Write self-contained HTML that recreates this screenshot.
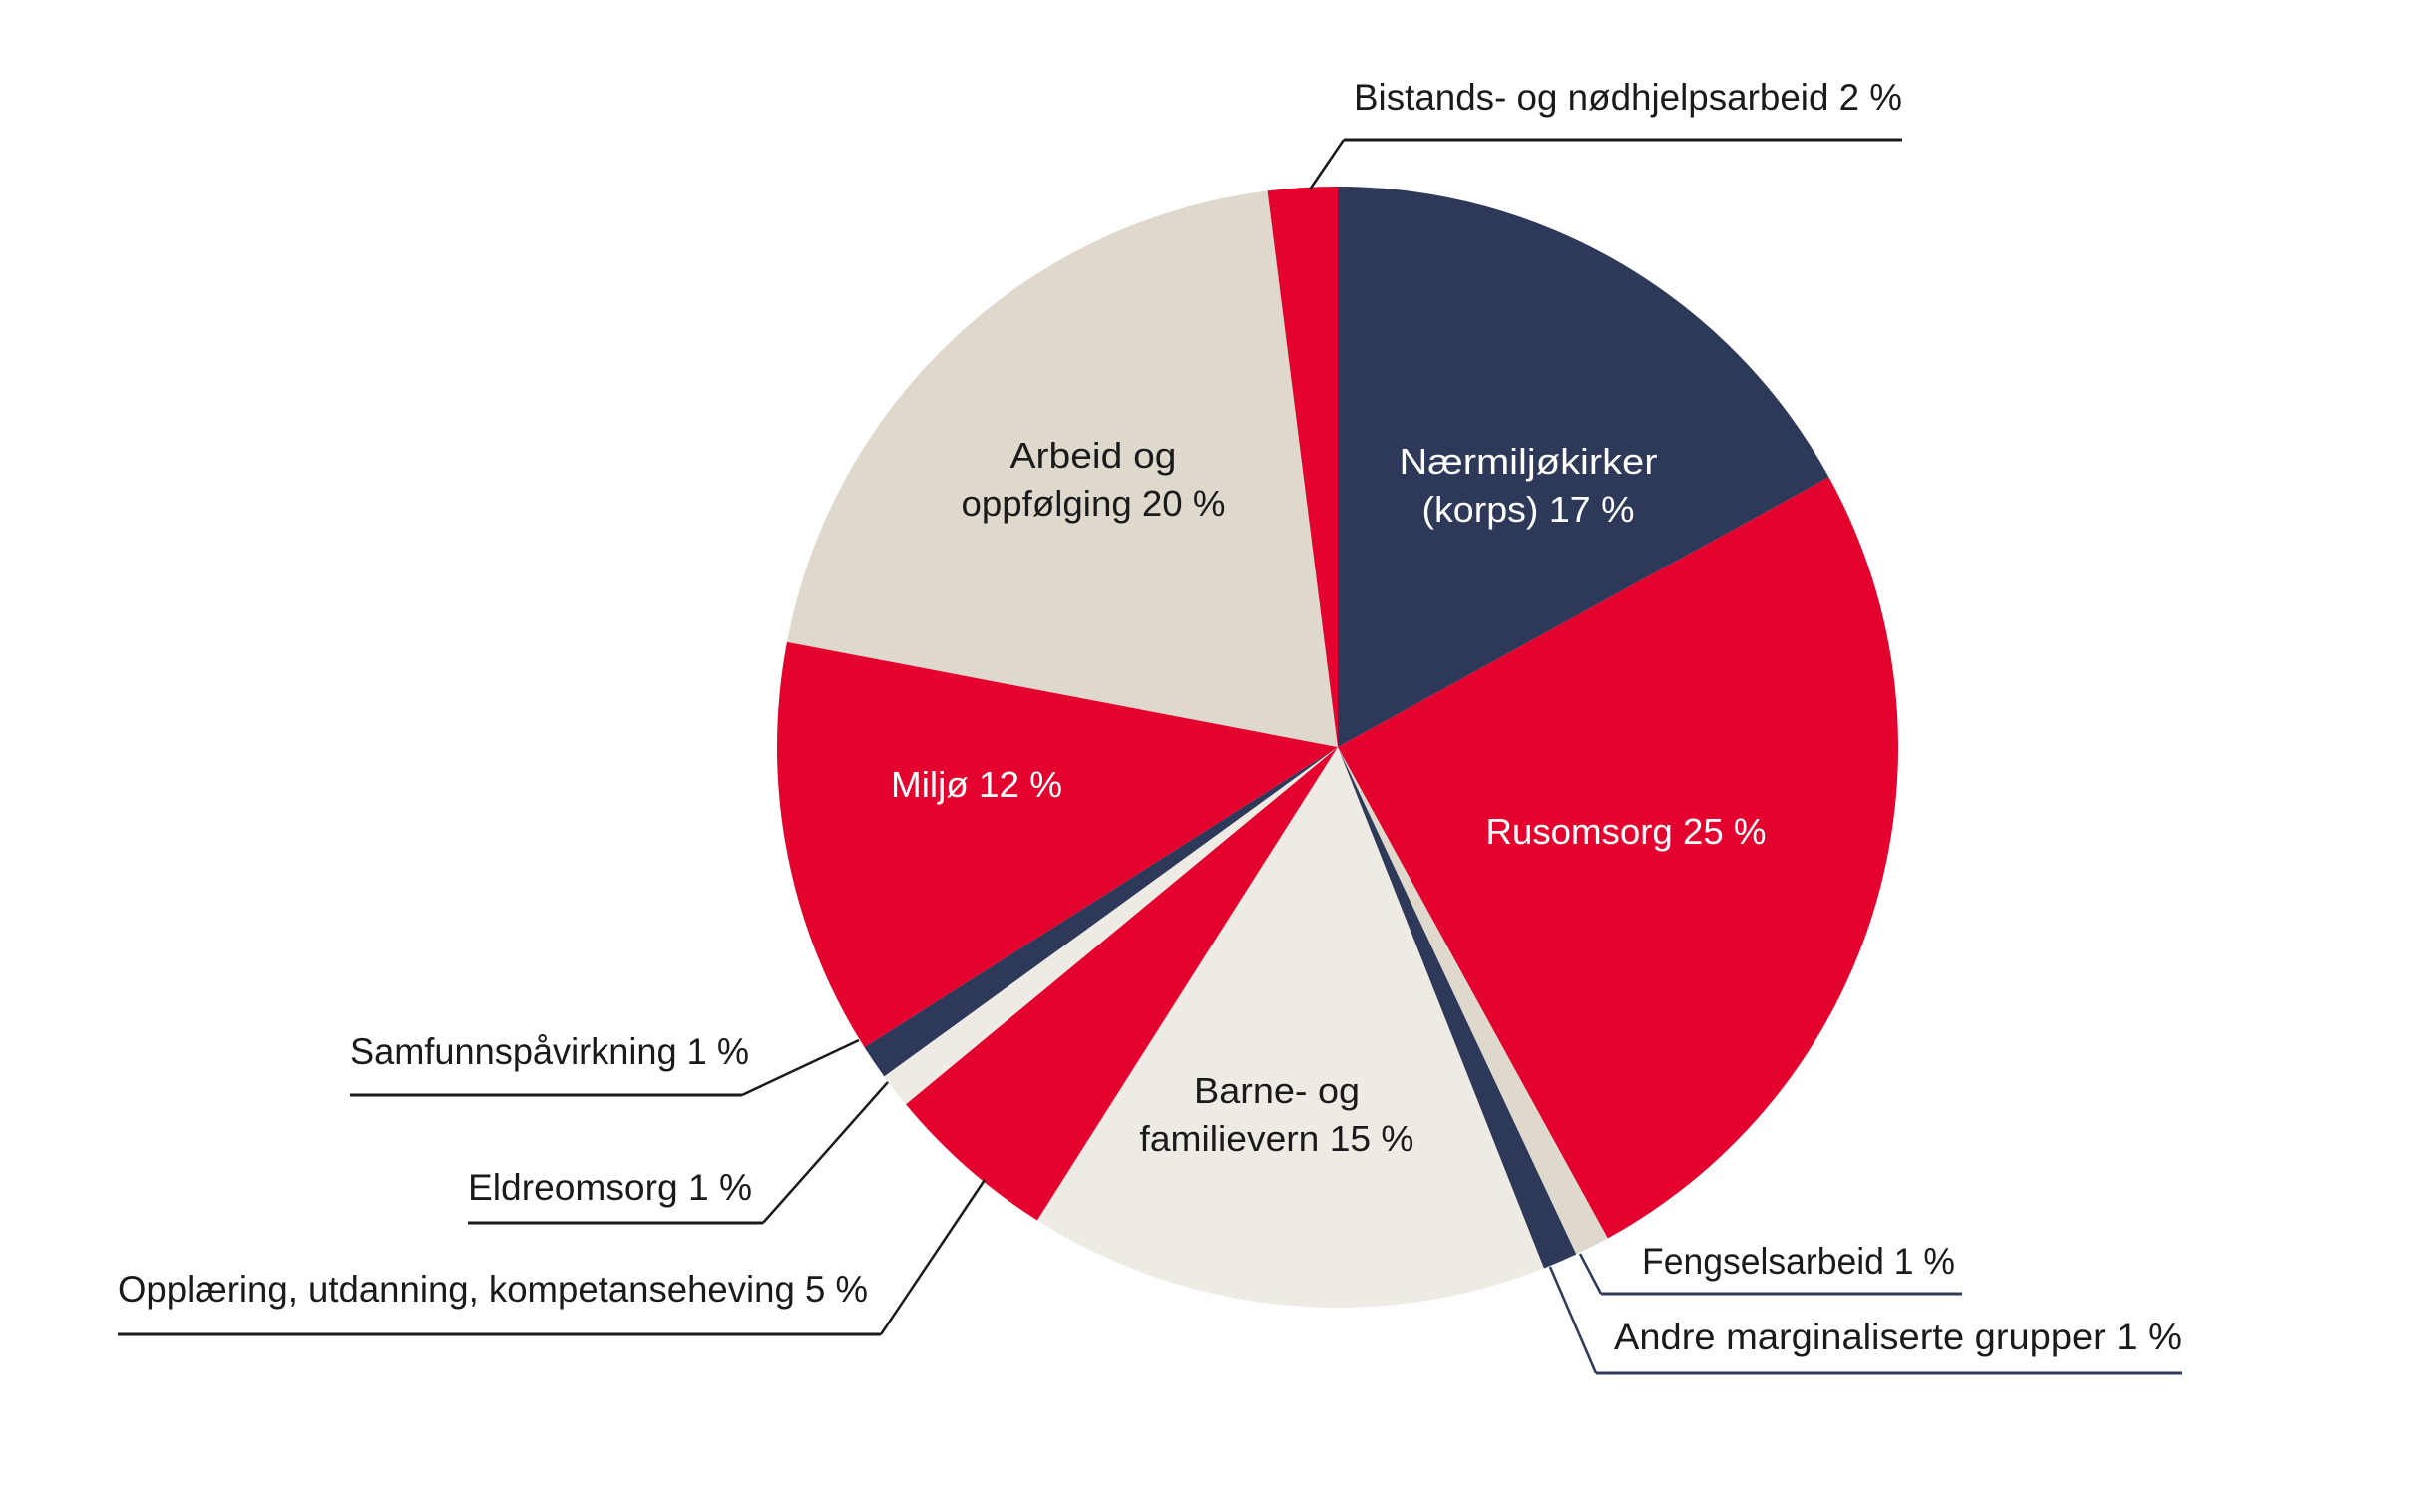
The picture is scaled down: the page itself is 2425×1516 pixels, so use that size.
<!DOCTYPE html>
<html><head><meta charset="utf-8"><style>
html,body{margin:0;padding:0;background:#fff;}
svg{display:block;}
text{font-family:"Liberation Sans",sans-serif;}
</style></head><body>
<svg id="chart" width="2425" height="1516" viewBox="0 0 2425 1516" xmlns="http://www.w3.org/2000/svg">
<g id="slices"></g>
<g id="leaders"></g>
<g id="labels"></g>
</svg>
<script>
const categories = ["Nærmiljøkirker (korps)","Rusomsorg","Fengselsarbeid","Andre marginaliserte grupper","Barne- og familievern","Opplæring, utdanning, kompetanseheving","Eldreomsorg","Samfunnspåvirkning","Miljø","Arbeid og oppfølging","Bistands- og nødhjelpsarbeid"];
const values = [17,25,1,1,15,5,1,1,12,20,2];
const colors = ["#2e3859","#e4032e","#dfd8cc","#2e3859","#eeeae4","#e4032e","#eeeae4","#2e3859","#e4032e","#dfd8cc","#e4032e"];
const insideLabels = [["Nærmiljøkirker","(korps) 17 %"],["Rusomsorg 25 %"],null,null,["Barne- og","familievern 15 %"],null,null,null,["Miljø 12 %"],["Arbeid og","oppfølging 20 %"],null];
const outsideLabels = [null,null,"Fengselsarbeid 1 %","Andre marginaliserte grupper 1 %",null,"Opplæring, utdanning, kompetanseheving 5 %","Eldreomsorg 1 %","Samfunnspåvirkning 1 %",null,null,"Bistands- og nødhjelpsarbeid 2 %"];

const NS="http://www.w3.org/2000/svg";
const cx=1341, cy=749, R=562;
const total=values.reduce((a,b)=>a+b,0);
function pt(frac,r){const a=frac*2*Math.PI;return [cx+r*Math.sin(a),cy-r*Math.cos(a)];}

// layout for inside labels: [centerX, baseline1, widths...]
const inLayout={0:{x:1532,y:475,w:[259,213]},1:{x:1630,y:846,w:[281]},4:{x:1280,y:1106,w:[166,275]},8:{x:979,y:799,w:[172]},9:{x:1096,y:469,w:[167,265]}};
// outside label layout: text x, baseline, text width, underline y, underline x1,x2, leader end point
const outLayout={
 10:{tx:1357,ty:110,tw:550,uy:140,ux1:1347,ux2:1907,lx:1347,ex:1313,ey:190,col:"#1a1a1a"},
 2:{tx:1646,ty:1277,tw:314,uy:1297,ux1:1605,ux2:1967,lx:1605,ex:1584,ey:1257,col:"#2e3859"},
 3:{tx:1618,ty:1353,tw:569,uy:1377,ux1:1600,ux2:2187,lx:1600,ex:1554,ey:1270,col:"#2e3859"},
 7:{tx:351,ty:1067,tw:400,uy:1098,ux1:351,ux2:744,lx:744,ex:861,ey:1043,col:"#1a1a1a"},
 6:{tx:469,ty:1203,tw:285,uy:1226,ux1:469,ux2:765,lx:765,ex:890,ey:1085,col:"#1a1a1a"},
 5:{tx:118,ty:1305,tw:752,uy:1338,ux1:118,ux2:883,lx:883,ex:987,ey:1183,col:"#1a1a1a"}
};

const gS=document.getElementById('slices'), gL=document.getElementById('leaders'), gT=document.getElementById('labels');
let acc=0;
values.forEach((v,i)=>{
  const f0=acc/total, f1=(acc+v)/total; acc+=v;
  const [x0,y0]=pt(f0,R),[x1,y1]=pt(f1,R);
  const large=(f1-f0)>0.5?1:0;
  const p=document.createElementNS(NS,'path');
  p.setAttribute('d',`M${cx},${cy}L${x0},${y0}A${R},${R} 0 ${large} 1 ${x1},${y1}Z`);
  p.setAttribute('fill',colors[i]);
  
  
  gS.appendChild(p);
  if(insideLabels[i]&&inLayout[i]){
    const L=inLayout[i];
    const fill=(colors[i]==="#dfd8cc"||colors[i]==="#eeeae4")?"#1a1a1a":"#ffffff";
    insideLabels[i].forEach((line,k)=>{
      const t=document.createElementNS(NS,'text');
      t.setAttribute('x',L.x);t.setAttribute('y',L.y+k*48);
      t.setAttribute('text-anchor','middle');t.setAttribute('font-size','36');
      t.setAttribute('fill',fill);
      t.setAttribute('textLength',L.w[k]);t.setAttribute('lengthAdjust','spacingAndGlyphs');
      t.textContent=line;
      
      
      gT.appendChild(t);
    });
  }
  if(outsideLabels[i]&&outLayout[i]){
    const L=outLayout[i];
    const pl=document.createElementNS(NS,'polyline');
    pl.setAttribute('points',`${L.ux1},${L.uy} ${L.ux2},${L.uy}`);
    pl.setAttribute('fill','none');pl.setAttribute('stroke',L.col);pl.setAttribute('stroke-width','3');
    
    
    gL.appendChild(pl);
    const ln=document.createElementNS(NS,'line');
    ln.setAttribute('x1',L.lx);ln.setAttribute('y1',L.uy);ln.setAttribute('x2',L.ex);ln.setAttribute('y2',L.ey);
    ln.setAttribute('stroke',L.col);ln.setAttribute('stroke-width','2.5');
    
    
    gL.appendChild(ln);
    const t=document.createElementNS(NS,'text');
    t.setAttribute('x',L.tx);t.setAttribute('y',L.ty);t.setAttribute('font-size','37');
    t.setAttribute('fill','#1a1a1a');
    t.setAttribute('textLength',L.tw);t.setAttribute('lengthAdjust','spacingAndGlyphs');
    t.textContent=outsideLabels[i];
    
    
    gT.appendChild(t);
  }
});
</script>
</body></html>
